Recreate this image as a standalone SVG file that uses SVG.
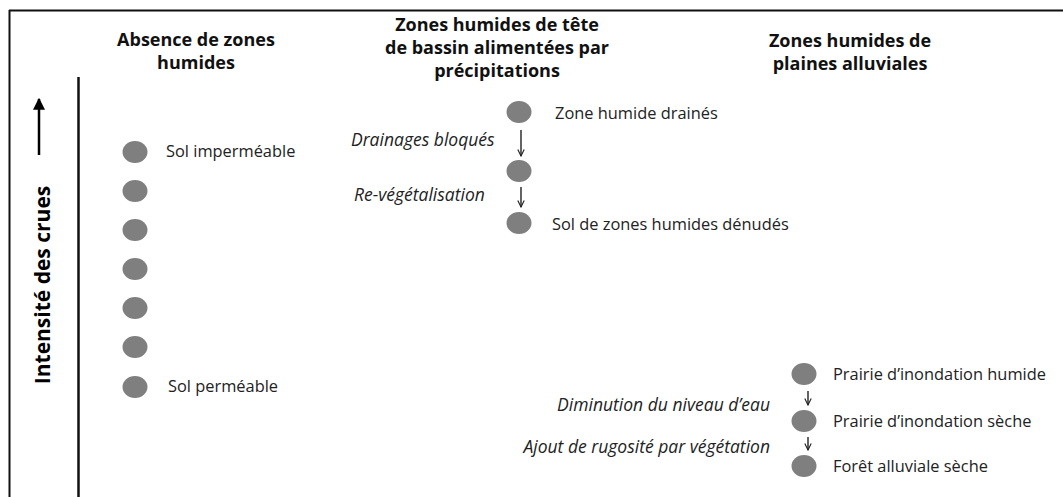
<svg xmlns="http://www.w3.org/2000/svg" width="1063" height="497" viewBox="0 0 1063 497">
<style>
.hd{font-family:"Open Sans","Liberation Sans",sans-serif;font-weight:bold;font-size:18px;fill:#111;text-anchor:middle}
.lb{font-family:"Open Sans","Liberation Sans",sans-serif;font-size:16.4px;fill:#222}
.it{font-family:"Open Sans","Liberation Sans",sans-serif;font-size:17.5px;font-style:italic;fill:#222}
.dot{fill:#7f7f7f}
.ar{stroke:#222;stroke-width:1.4;fill:none}
</style>
<defs>
<marker id="ah" viewBox="0 0 10 10" refX="9" refY="5" markerWidth="8" markerHeight="8" orient="auto" markerUnits="userSpaceOnUse">
<path d="M1,1 L9,5 L1,9" fill="none" stroke="#222" stroke-width="1.4"/>
</marker>
<marker id="bigah" viewBox="0 0 10 10" refX="9" refY="5" markerWidth="12" markerHeight="12" orient="auto" markerUnits="userSpaceOnUse">
<path d="M0,0 L10,5 L0,10 z" fill="#000"/>
</marker>
</defs>
<rect width="1063" height="497" fill="#fff"/>
<g id="frame">
<line x1="9" y1="10.5" x2="1063" y2="10.5" stroke="#111" stroke-width="2"/>
<line x1="9.5" y1="10" x2="9.5" y2="497" stroke="#111" stroke-width="2"/>
<line x1="78.5" y1="77" x2="78.5" y2="497" stroke="#111" stroke-width="2.5"/>
</g>
<g id="axis">
<line x1="39" y1="155" x2="39" y2="99" stroke="#000" stroke-width="2.5" marker-end="url(#bigah)"/>
<text x="0" y="0" transform="translate(50,285) rotate(-90)" font-family="Open Sans, Liberation Sans, sans-serif" font-weight="bold" font-size="21px" text-anchor="middle" fill="#000">Intensité des crues</text>
</g>
<g id="headers">
<text class="hd" x="196" y="46">Absence de zones</text>
<text class="hd" x="196" y="69">humides</text>
<text class="hd" x="497" y="31">Zones humides de tête</text>
<text class="hd" x="497" y="54">de bassin alimentées par</text>
<text class="hd" x="497" y="77">précipitations</text>
<text class="hd" x="850" y="47">Zones humides de</text>
<text class="hd" x="850" y="70">plaines alluviales</text>
</g>
<g id="col1">
<g id="n-sol-impermeable"><ellipse class="dot" cx="135" cy="152" rx="12.5" ry="11"/><text class="lb" x="166" y="157">Sol imperméable</text></g>
<g id="n-l2"><ellipse class="dot" cx="135" cy="191" rx="12.5" ry="11"/></g>
<g id="n-l3"><ellipse class="dot" cx="135" cy="230" rx="12.5" ry="11"/></g>
<g id="n-l4"><ellipse class="dot" cx="135" cy="269" rx="12.5" ry="11"/></g>
<g id="n-l5"><ellipse class="dot" cx="135" cy="308" rx="12.5" ry="11"/></g>
<g id="n-l6"><ellipse class="dot" cx="135" cy="347" rx="12.5" ry="11"/></g>
<g id="n-sol-permeable"><ellipse class="dot" cx="135" cy="387" rx="12.5" ry="11"/><text class="lb" x="168" y="392">Sol perméable</text></g>
</g>
<g id="col2">
<g id="n-zh-draines"><ellipse class="dot" cx="519" cy="112" rx="12.5" ry="11"/><text class="lb" x="555" y="119">Zone humide drainés</text></g>
<g id="n-zh-mid"><ellipse class="dot" cx="519" cy="171" rx="12.5" ry="11"/></g>
<g id="n-zh-denudes"><ellipse class="dot" cx="519" cy="223" rx="12.5" ry="11"/><text class="lb" x="552" y="230">Sol de zones humides dénudés</text></g>
</g>
<g id="col3">
<g id="n-prairie-humide"><ellipse class="dot" cx="804" cy="374" rx="12.5" ry="11"/><text class="lb" x="833" y="380">Prairie d’inondation humide</text></g>
<g id="n-prairie-seche"><ellipse class="dot" cx="804" cy="421" rx="12.5" ry="11"/><text class="lb" x="833" y="427">Prairie d’inondation sèche</text></g>
<g id="n-foret"><ellipse class="dot" cx="804" cy="466" rx="12.5" ry="11"/><text class="lb" x="833" y="472">Forêt alluviale sèche</text></g>
</g>
<g id="connectors">
<line class="ar" x1="521" y1="130" x2="521" y2="156" marker-end="url(#ah)"/>
<line class="ar" x1="521" y1="187" x2="521" y2="207" marker-end="url(#ah)"/>
<line class="ar" x1="808" y1="391" x2="808" y2="405" marker-end="url(#ah)"/>
<line class="ar" x1="808" y1="437" x2="808" y2="450" marker-end="url(#ah)"/>
<text class="it" x="351" y="146">Drainages bloqués</text>
<text class="it" x="354" y="201">Re-végétalisation</text>
<text class="it" x="770" y="411" text-anchor="end">Diminution du niveau d’eau</text>
<text class="it" x="770" y="453" text-anchor="end">Ajout de rugosité par végétation</text>
</g>
</svg>
